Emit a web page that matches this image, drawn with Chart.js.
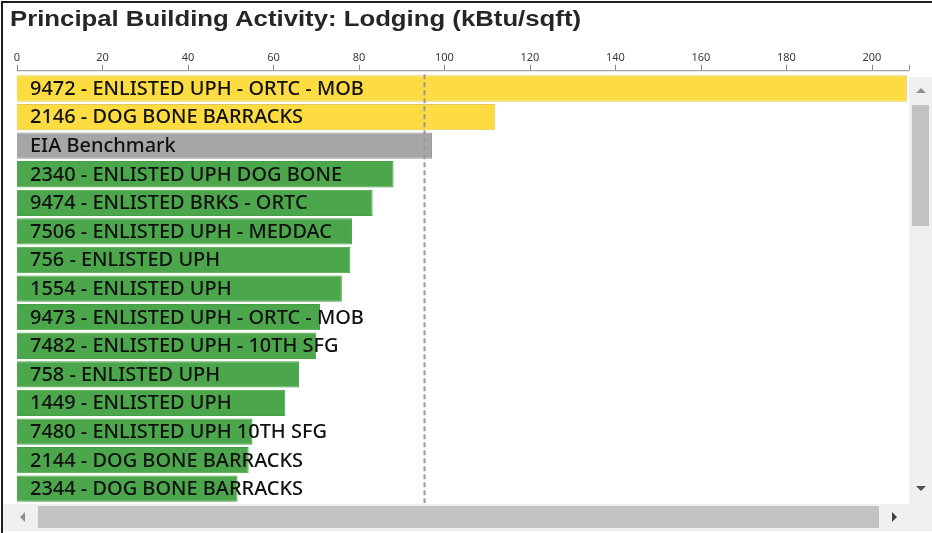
<!DOCTYPE html>
<html>
<head>
<meta charset="utf-8">
<script src="https://cdn.jsdelivr.net/npm/chart.js@4.4.0/dist/chart.umd.min.js"></script>
<style>
  html,body{margin:0;padding:0;background:#fff;}
  #wrap{position:relative;width:932px;height:533px;overflow:hidden;background:#fff;}
  #frameL{position:absolute;left:1px;top:1px;width:2px;height:532px;background:#1e1e1e;}
  #frameT{position:absolute;left:1px;top:1px;width:931px;height:2px;background:#1e1e1e;}
  #title{position:absolute;left:10px;top:6px;font:bold 22px "Liberation Sans",Arial,sans-serif;color:#262626;white-space:nowrap;
         transform-origin:0 0;transform:scaleX(1.17);}
  #c{position:absolute;left:0;top:0;}
  .bar{position:absolute;background:#f0f0f0;}
  .thumb{position:absolute;background:#c2c2c2;}
  .tri{position:absolute;width:0;height:0;}
</style>
</head>
<body>
<div id="wrap">
  <canvas id="c" width="932" height="533"></canvas>
  <div id="frameL"></div><div id="frameT"></div>
  <div id="title">Principal Building Activity: Lodging (kBtu/sqft)</div>
  <!-- Scrollbalken (nur Deko) -->
  <div class="bar" style="left:909px;top:77px;width:23px;height:427px;"></div>
  <div class="thumb" style="left:912px;top:105px;width:17px;height:121px;"></div>
  <div class="tri" style="left:916px;top:88px;border-left:5px solid transparent;border-right:5px solid transparent;border-bottom:5px solid #909090;"></div>
  <div class="tri" style="left:916px;top:486px;border-left:5px solid transparent;border-right:5px solid transparent;border-top:5px solid #505050;"></div>
  <div class="bar" style="left:3px;top:504px;width:929px;height:27px;"></div>
  <div class="thumb" style="left:38px;top:506px;width:841px;height:22px;"></div>
  <div class="tri" style="left:20px;top:512px;border-top:5px solid transparent;border-bottom:5px solid transparent;border-right:5px solid #909090;"></div>
  <div class="tri" style="left:892px;top:512px;border-top:5px solid transparent;border-bottom:5px solid transparent;border-left:5px solid #404040;"></div>
</div>
<script>
(function(){
  // Daten
  var buildings = [
    "9472 - ENLISTED UPH - ORTC - MOB",
    "2146 - DOG BONE BARRACKS",
    "EIA Benchmark",
    "2340 - ENLISTED UPH DOG BONE",
    "9474 - ENLISTED BRKS - ORTC",
    "7506 - ENLISTED UPH - MEDDAC",
    "756 - ENLISTED UPH",
    "1554 - ENLISTED UPH",
    "9473 - ENLISTED UPH - ORTC - MOB",
    "7482 - ENLISTED UPH - 10TH SFG",
    "758 - ENLISTED UPH",
    "1449 - ENLISTED UPH",
    "7480 - ENLISTED UPH 10TH SFG",
    "2144 - DOG BONE BARRACKS",
    "2344 - DOG BONE BARRACKS"
  ];
  var eui = [208.2, 111.9, 97.1, 88.1, 83.2, 78.4, 78.0, 76.0, 70.9, 70.0, 66.0, 62.8, 55.1, 54.2, 51.6];
  var benchmarkName = "EIA Benchmark";
  var targetLine = 95.3;
  var axisMax = 208.7;
  var xTicks = [0, 20, 40, 60, 80, 100, 120, 140, 160, 180, 200];

  var YELLOW = "#fddc42", GRAY = "#a6a6a6", GREEN = "#4ca64c";
  var benchVal = eui[buildings.indexOf(benchmarkName)];
  var colors = buildings.map(function(b,i){
    if (b === benchmarkName) return GRAY;
    return eui[i] > benchVal ? YELLOW : GREEN;
  });
  var borders = colors.map(function(c){ return c===YELLOW ? "#e2c65a" : (c===GRAY ? "#9a9a9a" : "#46a046"); });

  var axisPlugin = {
    id: "axisDeko",
    afterDatasetsDraw: function(chart){
      var ctx = chart.ctx, ca = chart.chartArea, xs = chart.scales.x;
      ctx.save();
      // Zielinie (gestrichelt)
      var lx = Math.round(xs.getPixelForValue(targetLine)) + 0.5;
      ctx.strokeStyle = "#9a9a9a"; ctx.lineWidth = 2; ctx.setLineDash([5,3]);
      ctx.beginPath(); ctx.moveTo(lx, ca.top); ctx.lineTo(lx, ca.bottom); ctx.stroke();
      ctx.setLineDash([]);
      // Achse + Ticks
      var ay = ca.top - 3.5;
      ctx.strokeStyle = "#8c8c8c"; ctx.lineWidth = 1;
      ctx.beginPath(); ctx.moveTo(xs.left, ay); ctx.lineTo(xs.right, ay);
      xTicks.concat([axisMax]).forEach(function(v){
        var px = Math.round(xs.getPixelForValue(v)) + 0.5;
        ctx.moveTo(px, ay); ctx.lineTo(px, ay - 6);
      });
      ctx.stroke();
      // Beschriftung in den Balken (etwas breit gezogen wie im Original)
      var meta = chart.getDatasetMeta(0);
      ctx.fillStyle = "#111";
      ctx.font = "500 19px 'Noto Sans', 'Open Sans', sans-serif";
      ctx.textBaseline = "middle"; ctx.textAlign = "left";
      meta.data.forEach(function(el, i){
        ctx.save();
        ctx.translate(ca.left + 13, el.y + 1);
        ctx.scale(1.05, 1);
        ctx.fillText(buildings[i], 0, 0);
        ctx.restore();
      });
      ctx.restore();
    }
  };

  new Chart(document.getElementById("c"), {
    type: "bar",
    data: {
      labels: buildings,
      datasets: [{
        data: eui,
        backgroundColor: colors,
        borderColor: borders,
        borderWidth: 1,
        barPercentage: 0.92,
        categoryPercentage: 1
      }]
    },
    options: {
      indexAxis: "y",
      responsive: false,
      animation: false,
      layout: { padding: { left: 17, right: 23, top: 41, bottom: 30 } },
      plugins: { legend: { display: false }, tooltip: { enabled: false }, title: { display: false } },
      scales: {
        x: {
          position: "top", min: 0, max: axisMax,
          grid: { display: false, drawTicks: false },
          border: { display: false },
          ticks: { stepSize: 20, includeBounds: false, padding: 10, color: "#3a3a3a",
                   font: { family: "'Noto Sans', sans-serif", size: 11 } }
        },
        y: { display: false }
      }
    },
    plugins: [axisPlugin]
  });
})();
</script>
</body>
</html>
